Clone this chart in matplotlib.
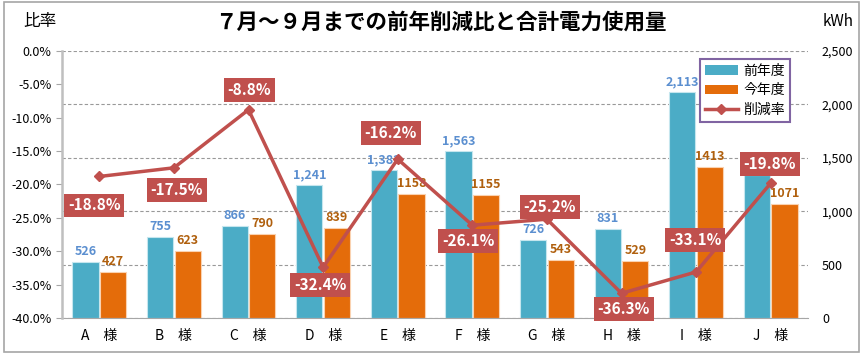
import matplotlib
matplotlib.use("Agg")
import matplotlib.pyplot as plt
from matplotlib.ticker import FuncFormatter, MultipleLocator
from matplotlib.patches import Rectangle, Patch
from matplotlib.lines import Line2D
import numpy as np

plt.rcParams['font.family'] = ['Noto Sans CJK JP', 'DejaVu Sans']

# データ
customers = ['A', 'B', 'C', 'D', 'E', 'F', 'G', 'H', 'I', 'J']
prev_year = [526, 755, 866, 1241, 1382, 1563, 726, 831, 2113, 1335]
this_year = [427, 623, 790, 839, 1158, 1155, 543, 529, 1413, 1071]
reduction = [-18.8, -17.5, -8.8, -32.4, -16.2, -26.1, -25.2, -36.3, -33.1, -19.8]
prev_labels = ['526', '755', '866', '1,241', '1,382', '1,563', '726', '831', '2,113', '']
this_labels = ['427', '623', '790', '839', '1158', '1155', '543', '529', '1413', '1071']
# 削減率ラベルのずらし量(ピクセル)
label_dx = [-5, 3, 1, -3, -7, -4, 3, 2, -1, -1]
label_dy = [-29, -22, 20, -18, 26, -16, 12, -16, 32, 19]

blue = '#4BACC6'
orange = '#E46C0A'
red = '#C0504D'

fig = plt.figure(figsize=(8.64, 3.59), dpi=100)
fig.patches.append(Rectangle((0.005, 0.02), 0.989, 0.974, transform=fig.transFigure,
                             fill=False, edgecolor='#A6A6A6', linewidth=1.2))

ax1 = fig.add_axes([0.0718, 0.1142, 0.8634, 0.7438])
x = np.arange(len(customers))
w = 0.35
ax1.bar(x - 0.185, prev_year, w, color=blue, edgecolor='#C5E6EE', linewidth=0.8, zorder=2)
ax1.bar(x + 0.185, this_year, w, color=orange, edgecolor='#FAD2B0', linewidth=0.8, zorder=2)
for i in range(len(customers)):
    if prev_labels[i]:
        ax1.annotate(prev_labels[i], (x[i] - 0.185, prev_year[i]), xytext=(0, 4),
                     textcoords='offset pixels', ha='center', va='bottom',
                     fontsize=9, fontweight='bold', color='#5B8FD0', zorder=3)
    ax1.annotate(this_labels[i], (x[i] + 0.185, this_year[i]), xytext=(0, 4),
                 textcoords='offset pixels', ha='center', va='bottom',
                 fontsize=9, fontweight='bold', color='#B0600E', zorder=3)

ax1.set_xlim(-0.5, len(customers) - 0.5)
ax1.set_ylim(0, 2500)
ax1.yaxis.set_major_locator(MultipleLocator(500))
ax1.yaxis.set_major_formatter(FuncFormatter(lambda v, p: f'{int(v):,}'))
ax1.grid(axis='y', linestyle=(0, (3, 2)), color='#999999', linewidth=0.8, zorder=0)
ax1.set_axisbelow(True)
ax1.set_xticks(x)
ax1.set_xticklabels([c + '\u3000様' for c in customers], fontsize=10)
ax1.tick_params(axis='x', length=0, pad=8)
for s in ['top', 'right', 'left']:
    ax1.spines[s].set_visible(False)
ax1.spines['bottom'].set_color('#A6A6A6')

ax2 = ax1.twinx()
# twinx の後で目盛りの左右を入れ替える
ax1.yaxis.tick_right()
ax1.tick_params(axis='y', length=0, labelsize=9, pad=10)
ax2.plot(x, reduction, color=red, linewidth=2.5, marker='D', markersize=5, zorder=3)
ax2.set_ylim(-40, 0)
ax2.yaxis.set_major_locator(MultipleLocator(5))
ax2.yaxis.set_major_formatter(FuncFormatter(lambda v, p: f'{v:.1f}%'))
ax2.yaxis.tick_left()
ax2.tick_params(axis='y', labelsize=9, length=4, color='#A6A6A6', direction='out')
for s in ['top', 'right', 'bottom']:
    ax2.spines[s].set_visible(False)
ax2.spines['left'].set_color('#BFBFBF')
ax2.spines['left'].set_linewidth(1.8)
for i in range(len(customers)):
    ax2.annotate(f'{reduction[i]:.1f}%', (x[i], reduction[i]),
                 xytext=(label_dx[i], label_dy[i]), textcoords='offset pixels',
                 ha='center', va='center', fontsize=11, fontweight='bold', color='white',
                 bbox=dict(boxstyle='square,pad=0.25', facecolor=red, edgecolor='none'),
                 zorder=5)

handles = [Patch(facecolor=blue), Patch(facecolor=orange),
           Line2D([0], [0], color=red, linewidth=2.5, marker='D', markersize=5)]
leg = ax2.legend(handles, ['前年度', '今年度', '削減率'], loc='upper right',
                 bbox_to_anchor=(0.985, 0.996), fontsize=10, fancybox=False,
                 edgecolor='#8064A2', framealpha=1, handlelength=2.4,
                 borderpad=0.35, labelspacing=0.4, handletextpad=0.4)
leg.get_frame().set_linewidth(1.5)
leg.set_zorder(10)

fig.text(0.51, 0.939, '７月～９月までの前年削減比と合計電力使用量', ha='center', va='center',
         fontsize=15.5, fontweight='bold')
fig.text(0.046, 0.939, '比率', ha='center', va='center', fontsize=12)
fig.text(0.97, 0.939, 'kWh', ha='center', va='center', fontsize=11)

fig.savefig('out.png', dpi=100)
